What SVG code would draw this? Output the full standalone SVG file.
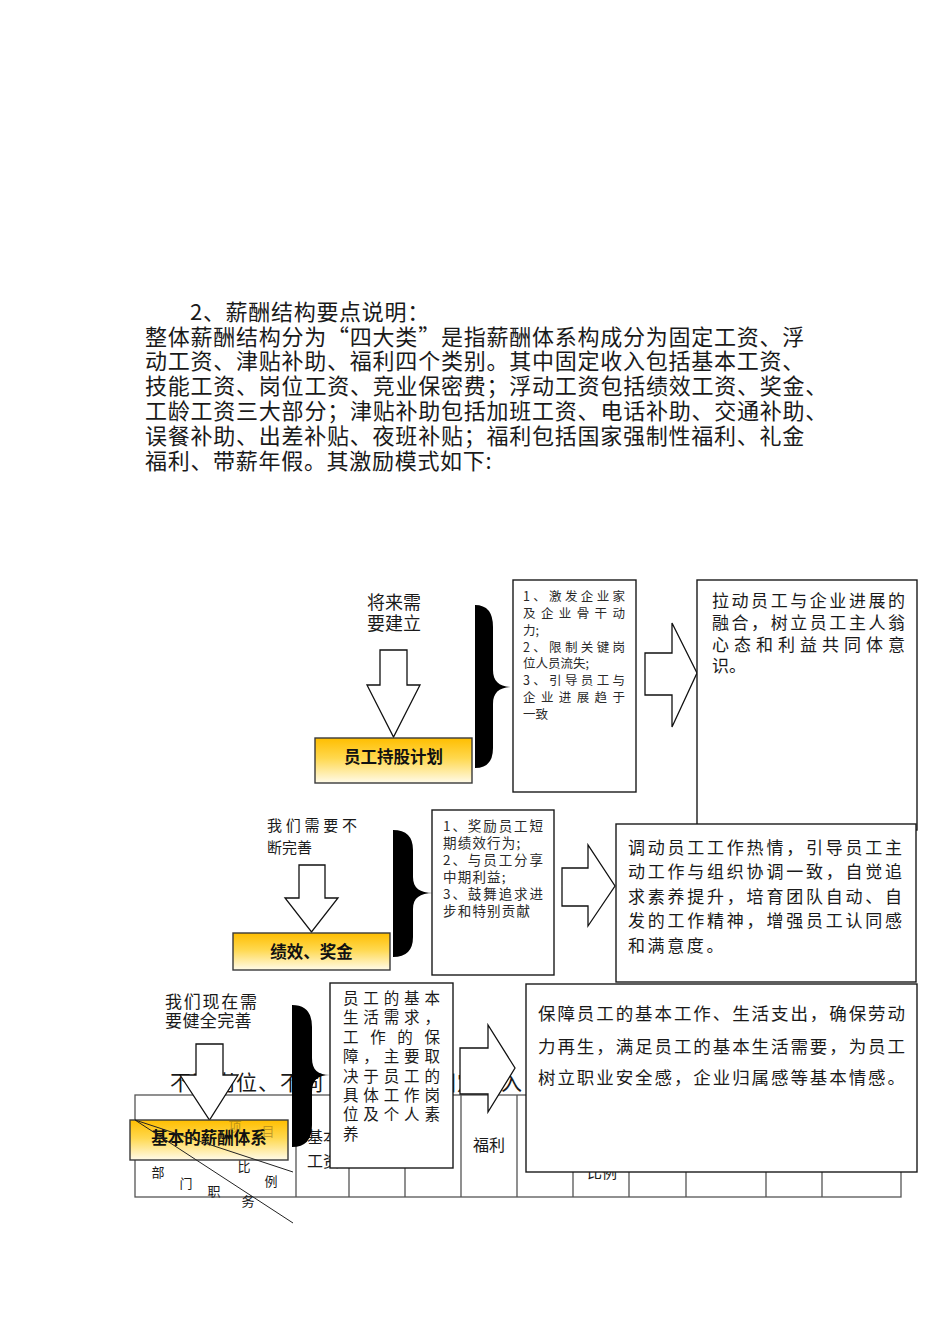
<svg xmlns="http://www.w3.org/2000/svg" width="950" height="1344" viewBox="0 0 950 1344">
<defs>
<linearGradient id="gold" x1="0" y1="0" x2="0" y2="1">
<stop offset="0" stop-color="#FFBE00"/>
<stop offset="0.45" stop-color="#FFD84E"/>
<stop offset="1" stop-color="#FFFBEA"/>
</linearGradient>
<style>
text{font-family:"Noto Sans CJK SC","Liberation Sans",sans-serif;fill:#1a1a1a}
.p{font-size:22px;letter-spacing:0.7px}
.box{fill:#fff;stroke:#1a1a1a;stroke-width:1.4}
.arr{fill:#fff;stroke:#111;stroke-width:1.3;stroke-linejoin:miter}
.gold{fill:url(#gold);stroke:#3a3a3a;stroke-width:1.4}
.gt{font-size:16.5px;font-weight:bold;text-anchor:middle;fill:#111}
.brace{fill:#000}
.tl{stroke:#555;stroke-width:1.3;fill:none}
.s1{font-size:12.5px;fill:#2a2a2a}
.s2{font-size:13.5px;fill:#2a2a2a}
.m{font-size:17px}
.c{font-size:13px}
</style>
</defs>
<rect width="950" height="1344" fill="#fff"/>

<g id="intro">
<text class="p" x="190" y="320">2、薪酬结构要点说明：</text>
<text class="p" x="145" y="345" textLength="660">整体薪酬结构分为“四大类”是指薪酬体系构成分为固定工资、浮</text>
<text class="p" x="145" y="369" textLength="660">动工资、津贴补助、福利四个类别。其中固定收入包括基本工资、</text>
<text class="p" x="145" y="394" textLength="683">技能工资、岗位工资、竞业保密费；浮动工资包括绩效工资、奖金、</text>
<text class="p" x="145" y="419" textLength="683">工龄工资三大部分；津贴补助包括加班工资、电话补助、交通补助、</text>
<text class="p" x="145" y="444" textLength="660">误餐补助、出差补贴、夜班补贴；福利包括国家强制性福利、礼金</text>
<text class="p" x="145" y="469">福利、带薪年假。其激励模式如下:</text>
</g>

<g id="table">
<text x="170" y="1090" style="font-size:21px;letter-spacing:1px">不同岗位、不同</text>
<text x="435" y="1090" style="font-size:21px;letter-spacing:1px">固定收入</text>
<rect class="tl" x="135" y="1095" width="766" height="102"/>
<path class="tl" d="M296,1095V1197M349,1095V1197M405,1095V1197M461,1095V1197M517,1095V1197M573,1095V1197M629,1095V1197M686,1095V1197M766,1095V1197M822,1095V1197"/>
<text x="307" y="1143" style="font-size:16px">基本</text>
<text x="307" y="1167" style="font-size:16px">工资</text>
<text x="489" y="1151" style="font-size:16px;text-anchor:middle">福利</text>
<text x="587" y="1178" style="font-size:15px">比例</text>
<text class="c" x="158" y="1177" text-anchor="middle">部</text>
<text class="c" x="186" y="1188" text-anchor="middle">门</text>
<text class="c" x="214" y="1196" text-anchor="middle">职</text>
<text class="c" x="248" y="1206" text-anchor="middle">务</text>
<text class="c" x="244" y="1171" text-anchor="middle">比</text>
<text class="c" x="271" y="1186" text-anchor="middle">例</text>
</g>

<g id="connectors">
<polygon class="arr" points="380,650 407,650 407,685 420,685 393.5,737 367,685 380,685"/>
<polygon class="arr" points="645,653 672,653 672,623 697,673 672,727 672,695 645,695"/>
<polygon class="arr" points="299,865 325,865 325,898 338,898 311.5,932 285,898 299,898"/>
<polygon class="arr" points="562,868 588,868 588,845 615,886 588,926 588,906 562,906"/>
</g>

<g id="n-future-text">
<text x="394" y="609" text-anchor="middle" style="font-size:18px">将来需</text>
<text x="394" y="630" text-anchor="middle" style="font-size:18px">要建立</text>
</g>
<g id="n-esop">
<rect class="gold" x="315" y="738" width="157" height="45"/>
<text class="gt" x="393.5" y="763">员工持股计划</text>
</g>
<g id="n-brace1">
<path class="brace" d="M475,605 Q493,605 493,627 L493,670 C493,682 500,687 513,687 C500,687 493,692 493,704 L493,748 Q493,768 475,768 Z"/>
</g>
<g id="n-esop-goals">
<rect class="box" x="513" y="580" width="123" height="212"/>
<text class="s1" x="523" y="601" textLength="102">1、激发企业家</text>
<text class="s1" x="523" y="618" textLength="102">及企业骨干动</text>
<text class="s1" x="523" y="635">力;</text>
<text class="s1" x="523" y="652" textLength="102">2、限制关键岗</text>
<text class="s1" x="523" y="668">位人员流失;</text>
<text class="s1" x="523" y="685" textLength="102">3、引导员工与</text>
<text class="s1" x="523" y="702" textLength="102">企业进展趋于</text>
<text class="s1" x="523" y="719">一致</text>
</g>
<g id="n-esop-result">
<rect class="box" x="697" y="580" width="220" height="250"/>
<text class="m" x="712" y="606.5" textLength="193">拉动员工与企业进展的</text>
<text class="m" x="712" y="628.5" textLength="193">融合，树立员工主人翁</text>
<text class="m" x="712" y="650.5" textLength="193">心态和利益共同体意</text>
<text class="m" x="712" y="671.5">识。</text>
</g>

<g id="n-improve-text">
<text x="267" y="830.7" textLength="90" style="font-size:15px">我们需要不</text>
<text x="267" y="852.7" style="font-size:15px">断完善</text>
</g>
<g id="n-bonus">
<rect class="gold" x="233" y="933" width="157" height="37"/>
<text class="gt" x="311.5" y="958">绩效、奖金</text>
</g>
<g id="n-brace2">
<path class="brace" d="M393,830 Q413,830 413,850 L413,877 C413,888 420,893 433,893 C420,893 413,898 413,909 L413,937 Q413,957 393,957 Z"/>
</g>
<g id="n-bonus-goals">
<rect class="box" x="432" y="810" width="122" height="165"/>
<text class="s2" x="443" y="831" textLength="100">1、奖励员工短</text>
<text class="s2" x="443" y="848" style="letter-spacing:1.2px">期绩效行为;</text>
<text class="s2" x="443" y="865" textLength="100">2、与员工分享</text>
<text class="s2" x="443" y="882" style="letter-spacing:1.2px">中期利益;</text>
<text class="s2" x="443" y="899" textLength="100">3、鼓舞追求进</text>
<text class="s2" x="443" y="916" style="letter-spacing:1.2px">步和特别贡献</text>
</g>
<g id="n-bonus-result">
<rect class="box" x="616" y="824" width="300" height="158"/>
<text class="m" x="628" y="853.5" textLength="274">调动员工工作热情，引导员工主</text>
<text class="m" x="628" y="878" textLength="274">动工作与组织协调一致，自觉追</text>
<text class="m" x="628" y="902.5" textLength="274">求素养提升，培育团队自动、自</text>
<text class="m" x="628" y="927" textLength="274">发的工作精神，增强员工认同感</text>
<text class="m" x="628" y="951.5" style="letter-spacing:2.6px">和满意度。</text>
</g>

<g id="n-basic-text">
<text x="165" y="1007.5" textLength="92" style="font-size:17px">我们现在需</text>
<text x="165" y="1026.5" style="font-size:17px;letter-spacing:0.4px">要健全完善</text>
</g>
<g id="connectors-3">
<polygon class="arr" points="196,1044 223,1044 223,1075 238,1075 209.5,1120 180,1075 196,1075"/>
<polygon class="arr" points="460,1048 488,1048 488,1025 515,1068 488,1112 488,1094 460,1094"/>
</g>
<g id="n-basic">
<rect class="gold" x="130" y="1120" width="158" height="40"/>
<text x="235" y="1131" text-anchor="middle" style="font-size:13px;fill:#8a6a1a;fill-opacity:0.55">项</text>
<text x="268" y="1136" text-anchor="middle" style="font-size:13px;fill:#8a6a1a;fill-opacity:0.55">目</text>
<text class="gt" x="209" y="1144">基本的薪酬体系</text>
<path d="M135,1120 L293,1172 M135,1120 L293,1223" stroke="#222" stroke-width="1" fill="none"/>
</g>
<g id="n-brace3">
<path class="brace" d="M292,1005 Q312,1005 312,1027 L312,1058 C312,1070 318,1075 330,1075 C318,1075 312,1080 312,1092 L312,1125 Q312,1147 292,1147 Z"/>
</g>
<g id="n-basic-goals">
<rect class="box" x="330" y="983" width="123" height="185"/>
<text x="343" y="1004" textLength="97" style="font-size:15.5px">员工的基本</text>
<text x="343" y="1023.3" textLength="97" style="font-size:15.5px">生活需求，</text>
<text x="343" y="1042.7" textLength="97" style="font-size:15.5px">工作的保</text>
<text x="343" y="1062.1" textLength="97" style="font-size:15.5px">障，主要取</text>
<text x="343" y="1081.5" textLength="97" style="font-size:15.5px">决于员工的</text>
<text x="343" y="1100.9" textLength="97" style="font-size:15.5px">具体工作岗</text>
<text x="343" y="1120.3" textLength="97" style="font-size:15.5px">位及个人素</text>
<text x="343" y="1139.7" style="font-size:15.5px">养</text>
</g>
<g id="n-basic-result">
<rect class="box" x="526" y="984" width="391" height="188"/>
<text x="538" y="1019.6" textLength="367" style="font-size:17.5px">保障员工的基本工作、生活支出，确保劳动</text>
<text x="538" y="1052.6" textLength="367" style="font-size:17.5px">力再生，满足员工的基本生活需要，为员工</text>
<text x="538" y="1083.6" textLength="367" style="font-size:17.5px">树立职业安全感，企业归属感等基本情感。</text>
</g>
</svg>
